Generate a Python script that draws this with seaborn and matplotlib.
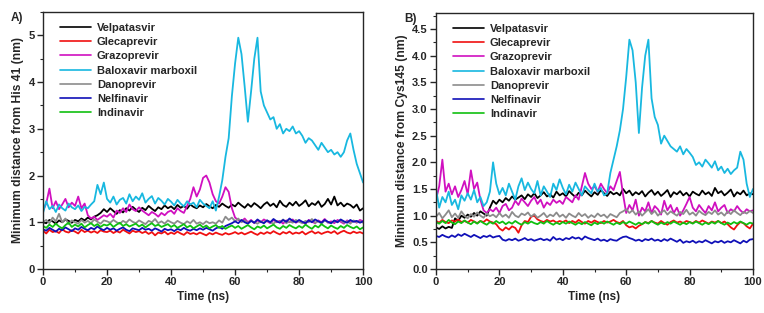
import numpy as np
import pandas as pd
import matplotlib
matplotlib.use("Agg")
import matplotlib.pyplot as plt
from matplotlib.ticker import MultipleLocator
import seaborn as sns

# time axis, 1 ns steps
time_ns = list(range(0, 101))

drugs = ["Velpatasvir", "Glecaprevir", "Grazoprevir", "Baloxavir marboxil",
         "Danoprevir", "Nelfinavir", "Indinavir"]

colors = {"Velpatasvir": "#000000", "Glecaprevir": "#f01010", "Grazoprevir": "#d010c0",
          "Baloxavir marboxil": "#18b8e0", "Danoprevir": "#8c8c8c",
          "Nelfinavir": "#1010b8", "Indinavir": "#10c010"}

# ---- panel A: minimum distance from His 41 (nm)
velp_a = [1.00, 0.98, 1.05, 1.02, 0.97, 1.04, 1.00, 1.06, 1.03, 0.99,
          1.05, 1.02, 1.08, 1.04, 1.10, 1.06, 1.12, 1.15, 1.20, 1.28,
          1.22, 1.30, 1.24, 1.18, 1.26, 1.21, 1.30, 1.25, 1.33, 1.27,
          1.22, 1.31, 1.26, 1.35, 1.29, 1.24, 1.32, 1.28, 1.36, 1.30,
          1.34, 1.28, 1.37, 1.31, 1.35, 1.29, 1.38, 1.33, 1.30, 1.36,
          1.32, 1.39, 1.34, 1.30, 1.37, 1.33, 1.40, 1.35, 1.31, 1.38,
          1.34, 1.42, 1.36, 1.31, 1.39, 1.33, 1.41, 1.36, 1.30, 1.38,
          1.43, 1.35, 1.40, 1.32, 1.46, 1.37, 1.33, 1.42, 1.36, 1.44,
          1.35, 1.40, 1.47, 1.34, 1.41, 1.37, 1.45, 1.33, 1.39, 1.50,
          1.38, 1.55, 1.36, 1.42, 1.34, 1.40, 1.37, 1.31, 1.38, 1.25, 1.30]
glec_a = [0.82, 0.76, 0.84, 0.79, 0.81, 0.77, 0.85, 0.80, 0.78, 0.83,
          0.80, 0.76, 0.84, 0.79, 0.82, 0.78, 0.81, 0.77, 0.83, 0.80,
          0.79, 0.82, 0.77, 0.81, 0.78, 0.84, 0.80, 0.76, 0.82, 0.79,
          0.81, 0.77, 0.80, 0.75, 0.79, 0.72, 0.78, 0.76, 0.80, 0.74,
          0.78, 0.75, 0.80, 0.76, 0.73, 0.79, 0.75, 0.77, 0.74, 0.78,
          0.75, 0.72, 0.77, 0.74, 0.78, 0.75, 0.73, 0.77, 0.74, 0.76,
          0.79, 0.75, 0.78, 0.74, 0.77, 0.80, 0.76, 0.73, 0.78, 0.75,
          0.79, 0.76, 0.81, 0.77, 0.74, 0.79, 0.76, 0.80, 0.75, 0.78,
          0.76, 0.80, 0.74, 0.78, 0.81, 0.76, 0.79, 0.75, 0.78, 0.80,
          0.77, 0.81, 0.75, 0.79, 0.82, 0.78, 0.76, 0.80, 0.77, 0.79, 0.76]
graz_a = [1.25, 1.40, 1.72, 1.30, 1.45, 1.28, 1.38, 1.50, 1.32, 1.42,
          1.35, 1.55, 1.30, 1.40, 1.15, 1.08, 1.12, 1.05, 1.10, 1.15,
          1.12, 1.18, 1.10, 1.25, 1.20, 1.30, 1.22, 1.38, 1.28, 1.24,
          1.32, 1.25, 1.20, 1.15, 1.22, 1.18, 1.12, 1.20, 1.15, 1.22,
          1.25, 1.18, 1.30, 1.24, 1.20, 1.35, 1.50, 1.75, 1.55, 1.70,
          1.95, 2.00, 1.85, 1.60, 1.45, 1.40, 1.55, 1.75, 1.65, 1.30,
          1.10, 1.05, 1.02, 1.08, 1.00, 1.05, 0.98, 1.04, 1.00, 1.06,
          1.02, 0.98, 1.05, 1.00, 1.03, 0.97, 1.04, 1.00, 1.06, 0.99,
          1.03, 1.00, 0.97, 1.05, 1.01, 0.98, 1.04, 1.00, 1.07, 0.99,
          1.02, 0.98, 1.05, 1.01, 0.97, 1.04, 1.00, 1.03, 0.99, 1.05, 1.02]
balo_a = [1.20, 1.45, 1.28, 1.35, 1.22, 1.38, 1.30, 1.25, 1.40, 1.32,
          1.28, 1.36, 1.24, 1.33, 1.30, 1.38, 1.45, 1.80, 1.60, 1.85,
          1.50, 1.42, 1.55, 1.38, 1.48, 1.52, 1.40, 1.60, 1.45, 1.55,
          1.48, 1.62, 1.42, 1.50, 1.56, 1.40, 1.52, 1.46, 1.38, 1.50,
          1.44, 1.36, 1.48, 1.40, 1.34, 1.45, 1.38, 1.42, 1.32, 1.48,
          1.40, 1.35, 1.30, 1.45, 1.25, 1.55, 1.90, 2.40, 2.80, 3.70,
          4.40, 4.95, 4.60, 3.90, 3.15, 3.80, 4.50, 4.95, 3.80, 3.50,
          3.35, 3.20, 3.25, 3.00, 3.10, 2.90, 3.00, 2.95, 3.05, 2.90,
          2.95, 2.85, 2.70, 2.80, 2.75, 2.65, 2.55, 2.70, 2.60, 2.50,
          2.55, 2.45, 2.50, 2.40, 2.50, 2.75, 2.90, 2.55, 2.25, 2.05, 1.85]
dano_a = [1.00, 1.05, 0.98, 1.10, 1.02, 1.18, 1.00, 1.08, 0.96, 1.04,
          1.00, 0.97, 1.05, 0.99, 1.03, 0.98, 1.06, 1.01, 0.97, 1.04,
          1.02, 0.99, 1.05, 1.00, 0.97, 1.03, 0.99, 1.06, 1.01, 0.98,
          1.04, 1.00, 0.96, 1.03, 1.00, 1.07, 0.98, 1.02, 0.97, 1.04,
          1.00, 0.97, 1.03, 0.99, 0.96, 1.02, 0.98, 1.05, 0.97, 1.00,
          0.96, 1.02, 0.98, 1.00, 0.97, 1.04, 0.99, 1.12, 1.05, 1.10,
          1.02, 1.08, 1.00, 1.04, 0.98, 1.03, 1.00, 0.97, 1.02, 0.99,
          1.04, 1.00, 0.97, 1.03, 1.00, 1.06, 0.98, 1.02, 0.99, 1.05,
          1.01, 0.98, 1.03, 1.00, 1.07, 0.99, 1.02, 0.97, 1.04, 1.00,
          0.98, 1.03, 1.00, 1.05, 0.99, 1.02, 0.97, 1.04, 1.00, 1.02, 0.99]
nelf_a = [0.85, 0.82, 0.88, 0.84, 0.80, 0.86, 0.83, 0.89, 0.85, 0.81,
          0.87, 0.84, 0.90, 0.86, 0.83, 0.88, 0.85, 0.91, 0.86, 0.83,
          0.88, 0.84, 0.87, 0.82, 0.86, 0.89, 0.84, 0.81, 0.87, 0.85,
          0.83, 0.88, 0.84, 0.86, 0.82, 0.87, 0.84, 0.80, 0.86, 0.83,
          0.85, 0.81, 0.86, 0.83, 0.88, 0.84, 0.82, 0.86, 0.83, 0.87,
          0.84, 0.88, 0.85, 0.82, 0.87, 0.90, 0.86, 0.92, 0.95, 0.98,
          1.02, 0.98, 1.05, 1.00, 0.97, 1.03, 0.99, 1.06, 1.01, 0.98,
          1.04, 1.00, 1.07, 1.02, 0.99, 1.05, 1.01, 1.08, 1.03, 1.00,
          1.05, 1.01, 0.98, 1.04, 1.00, 1.06, 1.02, 0.99, 1.05, 1.01,
          0.98, 1.04, 1.00, 1.06, 1.02, 0.99, 1.05, 1.01, 1.03, 0.99, 1.02]
indi_a = [0.92, 0.88, 0.95, 0.90, 0.97, 0.91, 0.87, 0.94, 0.99, 0.90,
          0.95, 0.91, 0.97, 0.89, 0.94, 0.98, 0.92, 0.96, 0.90, 0.95,
          0.93, 0.97, 0.90, 0.95, 0.99, 0.92, 0.96, 0.91, 0.94, 0.97,
          0.91, 0.95, 0.89, 0.94, 0.98, 0.92, 0.95, 0.90, 0.93, 0.96,
          0.90, 0.94, 0.88, 0.92, 0.96, 0.89, 0.93, 0.87, 0.91, 0.95,
          0.89, 0.93, 0.87, 0.91, 0.94, 0.88, 0.92, 0.86, 0.90, 0.93,
          0.88, 0.92, 0.86, 0.90, 0.94, 0.89, 0.85, 0.91, 0.88, 0.93,
          0.87, 0.91, 0.95, 0.89, 0.86, 0.92, 0.88, 0.94, 0.90, 0.87,
          0.92, 0.88, 0.95, 0.90, 0.86, 0.93, 0.89, 0.96, 0.91, 0.87,
          0.93, 0.89, 0.86, 0.92, 0.88, 0.94, 0.90, 0.87, 0.91, 0.85, 0.89]

# ---- panel B: minimum distance from Cys145 (nm)
velp_b = [0.78, 0.75, 0.80, 0.76, 0.79, 0.77, 0.95, 0.90, 1.00, 0.96,
          1.02, 0.98, 1.05, 1.00, 1.08, 1.04, 1.00, 1.15, 1.28, 1.22,
          1.30, 1.25, 1.33, 1.28, 1.36, 1.30, 1.34, 1.38, 1.31, 1.40,
          1.35, 1.42, 1.33, 1.38, 1.44, 1.36, 1.40, 1.34, 1.45, 1.38,
          1.42, 1.36, 1.46, 1.40, 1.35, 1.43, 1.38, 1.47, 1.41, 1.36,
          1.44, 1.39, 1.48, 1.42, 1.37, 1.45, 1.40, 1.43, 1.38, 1.50,
          1.42, 1.47, 1.38, 1.44, 1.40, 1.46, 1.36, 1.43, 1.48, 1.39,
          1.45, 1.37, 1.42, 1.48, 1.35, 1.44, 1.40, 1.46, 1.38, 1.43,
          1.36, 1.45, 1.41, 1.38, 1.47, 1.40, 1.44, 1.37, 1.52, 1.42,
          1.46, 1.38, 1.43, 1.49, 1.36, 1.44, 1.40, 1.47, 1.38, 1.42, 1.40]
glec_b = [0.90, 0.87, 0.92, 0.88, 0.86, 0.91, 0.89, 0.93, 0.88, 0.90,
          0.87, 0.92, 0.89, 0.86, 0.90, 0.88, 0.93, 0.89, 0.87, 0.84,
          0.76, 0.72, 0.78, 0.74, 0.80, 0.77, 0.68, 0.82, 0.90, 0.88,
          0.98, 1.00, 0.93, 0.90, 0.88, 0.92, 0.89, 0.91, 0.87, 0.90,
          0.88, 0.91, 0.86, 0.90, 0.87, 0.92, 0.88, 0.85, 0.90, 0.87,
          0.91, 0.88, 0.86, 0.90, 0.87, 0.89, 0.92, 0.88, 0.86, 0.90,
          0.82, 0.78, 0.80, 0.76, 0.81, 0.84, 0.88, 0.86, 0.90, 0.87,
          0.85, 0.90, 0.86, 0.83, 0.88, 0.91, 0.87, 0.89, 0.86, 0.90,
          0.88, 0.86, 0.90, 0.87, 0.91, 0.88, 0.85, 0.89, 0.87, 0.90,
          0.86, 0.89, 0.84, 0.78, 0.74, 0.82, 0.88, 0.86, 0.80, 0.76, 0.85]
graz_b = [1.30, 1.55, 2.05, 1.45, 1.60, 1.40, 1.55, 1.35, 1.48, 1.65,
          1.40, 1.85, 1.50, 1.62, 1.30, 1.10, 1.05, 1.12, 1.08, 1.15,
          1.05, 1.18, 1.22, 1.10, 1.15, 1.28, 1.20, 1.32, 1.25, 1.18,
          1.28, 1.35, 1.22, 1.30, 1.15, 1.25, 1.20, 1.30, 1.24, 1.28,
          1.22, 1.35, 1.30, 1.25, 1.38, 1.30, 1.55, 1.80, 1.60, 1.50,
          1.55, 1.45, 1.60, 1.50, 1.42, 1.55, 1.48, 1.65, 1.82, 1.40,
          1.05, 1.20, 1.10, 1.30, 1.00, 1.15, 1.08, 1.25, 1.05, 1.18,
          1.12, 1.02, 1.28, 1.10, 1.20, 1.05, 1.15, 1.00, 1.10, 1.22,
          1.35, 1.15, 1.08, 1.20, 1.12, 1.05, 1.18, 1.10, 1.25, 1.08,
          1.15, 1.20, 1.05, 1.12, 1.08, 1.18, 1.10, 1.05, 1.12, 1.08, 1.10]
balo_b = [1.50, 1.15, 1.35, 1.25, 1.45, 1.20, 1.30, 1.12, 1.38, 1.28,
          1.42, 1.30, 1.48, 1.25, 1.35, 1.18, 1.25, 1.45, 2.00, 1.60,
          1.40, 1.52, 1.38, 1.60, 1.45, 1.30, 1.55, 1.70, 1.48, 1.62,
          1.50, 1.42, 1.65, 1.38, 1.55, 1.45, 1.35, 1.60, 1.48, 1.68,
          1.52, 1.40, 1.58, 1.45, 1.62, 1.50, 1.38, 1.55, 1.48, 1.42,
          1.60, 1.45, 1.52, 1.38, 1.42, 1.80, 2.05, 2.30, 2.60, 3.00,
          3.60, 4.30, 4.10, 3.50, 2.55, 3.40, 4.00, 4.30, 3.20, 2.85,
          2.70, 2.35, 2.50, 2.40, 2.30, 2.25, 2.20, 2.30, 2.15, 2.25,
          2.18, 2.10, 1.95, 2.00, 1.92, 2.05, 1.98, 1.90, 2.02, 1.85,
          1.92, 1.80, 1.88, 1.78, 1.85, 1.90, 2.20, 2.05, 1.60, 1.35, 1.50]
dano_b = [0.98, 1.05, 0.95, 1.02, 1.10, 0.97, 1.04, 0.96, 1.08, 1.00,
          0.95, 1.03, 0.98, 1.06, 1.00, 0.96, 1.04, 0.99, 1.02, 0.97,
          1.05, 0.98, 1.02, 0.96, 1.07, 1.00, 0.97, 1.04, 1.01, 1.06,
          0.98, 1.03, 0.96, 1.00, 1.05, 0.97, 1.02, 0.99, 1.06, 0.98,
          1.02, 0.96, 1.04, 1.00, 0.97, 1.05, 0.99, 1.03, 0.96, 1.01,
          0.97, 1.04, 0.99, 1.02, 0.96, 1.03, 1.00, 0.97, 1.05, 1.08,
          1.12, 1.05, 1.10, 1.02, 1.08, 1.00, 1.06, 1.12, 1.03, 1.09,
          1.00, 1.06, 1.10, 1.02, 1.08, 1.04, 1.00, 1.07, 1.03, 1.11,
          1.02, 1.06, 1.00, 1.09, 1.04, 1.01, 1.07, 1.03, 1.10, 1.02,
          1.06, 1.00, 1.08, 1.03, 1.10, 1.05, 1.01, 1.07, 1.04, 1.09, 1.05]
nelf_b = [0.62, 0.60, 0.64, 0.61, 0.59, 0.63, 0.60, 0.65, 0.62, 0.66,
          0.63, 0.60, 0.64, 0.61, 0.58, 0.62, 0.60, 0.63, 0.59, 0.61,
          0.62, 0.55, 0.53, 0.56, 0.54, 0.57, 0.53, 0.55, 0.58, 0.54,
          0.56, 0.53, 0.55, 0.57, 0.54, 0.56, 0.53, 0.60, 0.55, 0.57,
          0.54, 0.58, 0.56, 0.60, 0.57, 0.59, 0.55, 0.61, 0.58, 0.56,
          0.54, 0.57, 0.53, 0.55, 0.52, 0.56, 0.54, 0.53, 0.57, 0.60,
          0.61, 0.58, 0.56, 0.53, 0.55, 0.52, 0.56, 0.54, 0.57, 0.53,
          0.55, 0.52, 0.56, 0.53, 0.57, 0.54, 0.51, 0.55, 0.49, 0.52,
          0.50, 0.53, 0.49, 0.52, 0.50, 0.54, 0.51, 0.48, 0.52, 0.50,
          0.53, 0.49, 0.52, 0.50, 0.54, 0.51, 0.48, 0.53, 0.50, 0.55, 0.56]
indi_b = [0.88, 0.85, 0.90, 0.86, 0.92, 0.87, 0.84, 0.89, 0.86, 0.91,
          0.87, 0.84, 0.89, 0.85, 0.90, 0.86, 0.83, 0.88, 0.85, 0.90,
          0.86, 0.89, 0.84, 0.88, 0.85, 0.90, 0.86, 0.83, 0.88, 0.85,
          0.89, 0.86, 0.84, 0.88, 0.85, 0.90, 0.86, 0.83, 0.87, 0.84,
          0.88, 0.85, 0.89, 0.86, 0.83, 0.87, 0.84, 0.88, 0.85, 0.82,
          0.87, 0.84, 0.88, 0.85, 0.89, 0.86, 0.83, 0.87, 0.84, 0.88,
          0.85, 0.89, 0.86, 0.83, 0.87, 0.84, 0.88, 0.85, 0.90, 0.86,
          0.83, 0.87, 0.84, 0.88, 0.85, 0.89, 0.86, 0.83, 0.87, 0.84,
          0.88, 0.85, 0.89, 0.86, 0.83, 0.87, 0.84, 0.88, 0.85, 0.90,
          0.86, 0.83, 0.87, 0.84, 0.88, 0.85, 0.89, 0.86, 0.83, 0.87, 0.85]

series_a = [velp_a, glec_a, graz_a, balo_a, dano_a, nelf_a, indi_a]
series_b = [velp_b, glec_b, graz_b, balo_b, dano_b, nelf_b, indi_b]


def long_df(series):
    parts = []
    for name, vals in zip(drugs, series):
        parts.append(pd.DataFrame({"time": time_ns, "dist": vals, "drug": name}))
    return pd.concat(parts, ignore_index=True)


sns.set_style("ticks")
plt.rcParams["font.family"] = ["Liberation Sans", "DejaVu Sans"]
plt.rcParams["font.weight"] = "bold"

fig = plt.figure(figsize=(7.64, 3.13), dpi=100)
ax_a = fig.add_axes([0.0563, 0.1406, 0.4190, 0.8211])
ax_b = fig.add_axes([0.5707, 0.1406, 0.4149, 0.8179])

panels = [(ax_a, series_a, "Minimum distance from His 41 (nm)", 5.5, 1, 0.5, "{x:.0f}", "A)"),
          (ax_b, series_b, "Minimum distance from Cys145 (nm)", 4.8, 0.5, 0.25, "{x:.1f}", "B)")]

for ax, series, ylab, ytop, ymaj, ymin, fmt, tag in panels:
    df = long_df(series)
    sns.lineplot(data=df, x="time", y="dist", hue="drug", hue_order=drugs,
                 palette=colors, estimator=None, linewidth=1.3, ax=ax)
    ax.set_xlim(0, 100)
    ax.set_ylim(0, ytop)
    ax.xaxis.set_major_locator(MultipleLocator(20))
    ax.xaxis.set_minor_locator(MultipleLocator(10))
    ax.yaxis.set_major_locator(MultipleLocator(ymaj))
    ax.yaxis.set_minor_locator(MultipleLocator(ymin))
    ax.yaxis.set_major_formatter(fmt)
    ax.tick_params(which="major", length=4, width=1, labelsize=8, pad=2)
    ax.tick_params(which="minor", length=2, width=0.8)
    for lbl in ax.get_xticklabels() + ax.get_yticklabels():
        lbl.set_fontweight("bold")
    for sp in ax.spines.values():
        sp.set_visible(True)
        sp.set_linewidth(1.0)
    ax.set_xlabel("Time (ns)", fontsize=8.5, fontweight="bold", labelpad=3)
    ax.set_ylabel(ylab, fontsize=8.7, fontweight="bold", labelpad=3)
    leg = ax.legend(loc="upper left", bbox_to_anchor=(0.04, 0.975), frameon=False,
                    fontsize=8, handlelength=2.8, handletextpad=0.5,
                    labelspacing=0.38, borderaxespad=0)
    for t in leg.get_texts():
        t.set_fontweight("bold")
    for h in leg.get_lines():
        h.set_linewidth(1.2)
    ax.text(-0.1, 1.0, tag, transform=ax.transAxes, fontsize=8.5,
            fontweight="bold", ha="left", va="top")

fig.savefig("out.png", dpi=100)
